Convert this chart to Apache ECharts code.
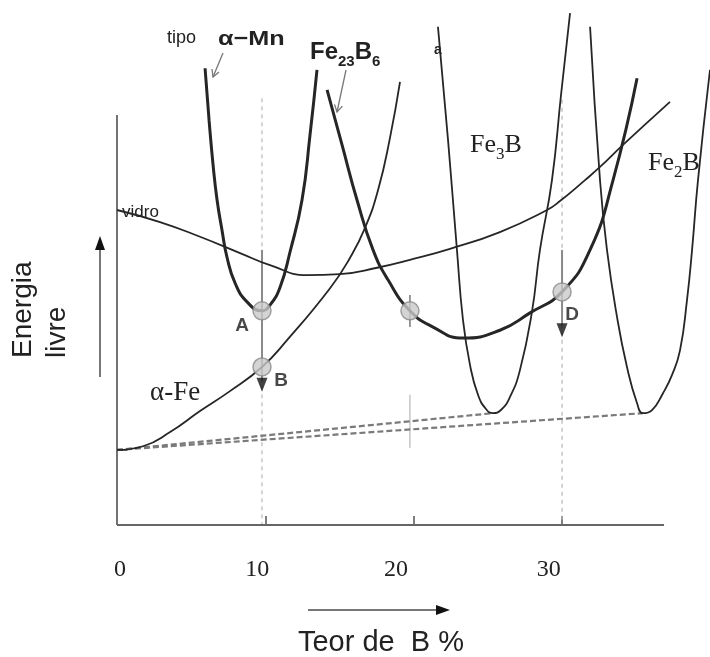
<!DOCTYPE html>
<html><head><meta charset="utf-8">
<script src="https://cdn.jsdelivr.net/npm/echarts@6/dist/echarts.min.js"></script>
<style>html,body{margin:0;padding:0;background:#fff}#c{width:710px;height:657px}</style>
</head><body><div id="c"></div>
<script>
// ---- data (x = B content %, y = free energy, arbitrary units) ----
const xTickLabels = [0, 10, 20, 30];
const vidro = [[0,60.0],[2.9,57.7],[5.6,54.9],[8.3,51.8],[10.32,49.5],[12.82,47.6],[15.04,47.8],[17.54,49.0],[19.76,50.5],[22.46,52.6],[25.83,55.8],[29.01,60.0],[29.88,61.7],[31.57,65.7],[32.58,68.2],[34.13,72.4],[37.30,80.6]];
const alphaMn = [[5.94,87.0],[6.21,77.1],[6.48,68.6],[6.75,61.9],[7.08,56.2],[7.42,51.0],[7.96,46.1],[8.77,42.5],[9.78,40.8],[10.32,41.9],[11.00,45.3],[11.67,52.0],[12.48,61.9],[13.02,74.3],[13.49,86.7]];
const fe23b6 = [[14.17,82.9],[15.18,72.4],[16.19,61.9],[17.27,52.4],[18.28,46.7],[19.76,40.8],[21.32,37.7],[23.34,35.6],[25.83,37.1],[27.86,40.4],[30.02,44.4],[31.91,52.4],[33.46,65.7],[35.08,85.1]];
const alphaFe = [[0,14.3],[1.75,15.0],[3.58,17.7],[5.60,21.7],[7.62,25.5],[9.78,30.1],[11.47,35.2],[14.37,45.1],[15.72,50.9],[16.73,56.6],[17.61,63.8],[18.41,73.7],[19.09,84.4]];
const fe3b = [[21.65,94.9],[22.33,73.3],[22.93,52.4],[23.34,39.0],[23.81,30.5],[24.35,24.8],[24.89,22.1],[25.36,21.3],[25.90,21.9],[26.51,24.4],[27.18,29.5],[27.99,40.6],[28.53,52.4],[29.34,65.7],[29.95,81.9],[30.56,97.5]];
const fe2b = [[31.91,94.9],[32.58,65.7],[33.05,52.4],[33.73,39.6],[34.40,30.1],[35.08,23.2],[35.48,21.3],[36.09,21.9],[36.83,25.1],[37.44,28.6],[37.98,33.3],[38.45,42.9],[38.79,52.4],[39.19,65.7],[40.00,86.7]];
const tieFe3B = [[0,14.3],[25.36,21.3]];
const tieFe2B = [[0,14.3],[35.48,21.3]];
const pointNames = ['A','B','C','D'];
const pointValues = [[9.78,40.8],[9.78,30.1],[19.76,40.8],[30.02,44.4]];
const guideX = [9.78, 30.02];
const guideTop = [81.3, 81.0];
const dropFrom = [52.4, 52.4];
const dropTo = [27.5, 38.0];
const arrowHeads = [[9.78,26.7],[30.02,37.1]];
const mark20 = [[19.76,24.8],[19.76,14.7]];
const markC = [[19.76,43.8],[19.76,37.7]];
const yAxisTop = 78.1;
const xAxisEnd = 36.9;
const yTickE = 14.3;

const SANS = '"Liberation Sans", Arial, sans-serif';
const SERIF = '"Liberation Serif", "Times New Roman", serif';
const INK = '#262626';

function curve(data, width) {
  return {type:'line', data, smooth:0.5, symbol:'none', silent:true,
    lineStyle:{color:INK, width}, z:3};
}
function seg(data, color, width, type, z) {
  return {type:'line', data, symbol:'none', silent:true, lineStyle:{color, width, type}, z: z||2};
}

const series = [];
guideX.forEach((x,i) => series.push(seg([[x,guideTop[i]],[x,0]], '#b5b5b5', 1.2, [4,4], 1)));
guideX.forEach((x,i) => series.push(seg([[x,dropFrom[i]],[x,dropTo[i]]], '#8a8a8a', 2, 'solid', 2)));
series.push(seg(mark20, '#a8a8a8', 1, 'solid', 1));
series.push(seg(markC, '#555', 1.2, 'solid', 2));
series.push(seg(tieFe3B, '#7a7a7a', 2.2, [6,3], 2));
series.push(seg(tieFe2B, '#7a7a7a', 2.2, [6,3], 2));
series.push(seg([[0,0],[0,yAxisTop]], '#444', 1.5, 'solid', 2));
series.push(seg([[0,0],[xAxisEnd,0]], '#666', 2, 'solid', 2));
series.push(seg([[0,yTickE],[0.7,yTickE]], '#444', 1.5, 'solid', 2));
series.push(curve(vidro, 1.8));
series.push(curve(alphaFe, 1.8));
series.push(curve(fe3b, 1.8));
series.push(curve(fe2b, 1.8));
series.push(curve(alphaMn, 3));
series.push(curve(fe23b6, 3));
series.push({type:'scatter', data: arrowHeads, symbol:'triangle', symbolSize:[11,14], symbolRotate:180,
  itemStyle:{color:'#111'}, silent:true, z:6});
const labelOffsets = {A:[-20,15], B:[19,14], C:null, D:[10,23]};
series.push({type:'scatter', symbolSize:18, silent:true, z:7,
  itemStyle:{color:'#c9c9c9', borderColor:'#8a8a8a', borderWidth:1.5},
  data: pointNames.map((n,i) => ({name:n, value:pointValues[i],
    label: labelOffsets[n] ? {show:true, position:'inside', offset:labelOffsets[n], formatter:n,
      fontFamily:SANS, fontSize:19, fontWeight:'bold', color:'#1a1a1a'} : {show:false}}))
});

const tickRich = {};
const tickPad = {0:[0,0,0,6], 10:[0,16,0,0], 20:[0,35,0,0], 30:[0,26,0,0]};
xTickLabels.forEach(v => { tickRich['t'+v] = {fontFamily:SERIF, fontSize:24, color:'#222', padding:tickPad[v]}; });

function arrowHead(tip, a, b) { return {type:'polyline', shape:{points:[a, tip, b]}, style:{stroke:'#777', lineWidth:1.3, fill:null}}; }

const option = {
  animation:false,
  backgroundColor:'#fff',
  grid:{left:117, right:0, top:0, bottom:132},
  xAxis:{type:'value', min:0, max:40, interval:10,
    axisLine:{show:false}, splitLine:{show:false},
    axisTick:{show:true, inside:true, length:9, lineStyle:{color:'#555', width:1.5}, customValues:[10,20,30]},
    axisLabel:{customValues:xTickLabels, margin:33, fontFamily:SERIF, fontSize:24, color:'#222',
      formatter: v => xTickLabels.indexOf(v) >= 0 ? '{t'+v+'|'+v+'}' : '', rich:tickRich}},
  yAxis:{type:'value', min:0, max:100, show:false},
  series,
  graphic:[
    {type:'line', shape:{x1:100,y1:377,x2:100,y2:248}, style:{stroke:'#777', lineWidth:2}},
    {type:'polygon', shape:{points:[[100,236],[95,250],[105,250]]}, style:{fill:'#111'}},
    {type:'line', shape:{x1:308,y1:610,x2:438,y2:610}, style:{stroke:'#777', lineWidth:2}},
    {type:'polygon', shape:{points:[[450,610],[436,605],[436,615]]}, style:{fill:'#111'}},
    {type:'text', x:6, y:358, rotation:Math.PI/2, style:{text:'Energia\nlivre', fontFamily:SANS, fontSize:28, lineHeight:34, fill:'#222', align:'left', verticalAlign:'top'}},
    {type:'text', x:381, y:628, style:{text:'Teor de  B %', fontFamily:SANS, fontSize:29, fill:'#222', align:'center', verticalAlign:'top'}},
    {type:'text', x:167, y:38, style:{text:'tipo', fontFamily:SANS, fontSize:18, fill:'#222', align:'left', verticalAlign:'middle'}},
    {type:'text', x:218, y:39, scaleX:1.2, style:{text:'α−Mn', fontFamily:SANS, fontSize:21, fontWeight:'bold', fill:'#222', align:'left', verticalAlign:'middle'}},
    {type:'text', x:310, y:52, style:{text:'{m|Fe}{s|23}{m|B}{s|6}', align:'left', verticalAlign:'middle',
      rich:{m:{fontFamily:SANS, fontSize:24, fontWeight:'bold', fill:'#222', lineHeight:34},
            s:{fontFamily:SANS, fontSize:15, fontWeight:'bold', fill:'#222', lineHeight:15, padding:[19,0,0,0]}}}},
    {type:'text', x:438, y:50, style:{text:'a', fontFamily:SANS, fontSize:14, fontWeight:'bold', fill:'#222', align:'center', verticalAlign:'middle'}},
    {type:'text', x:470, y:145, style:{text:'{m|Fe}{s|3}{m|B}', align:'left', verticalAlign:'middle',
      rich:{m:{fontFamily:SERIF, fontSize:26, fill:'#222', lineHeight:36},
            s:{fontFamily:SERIF, fontSize:17, fill:'#222', lineHeight:17, padding:[19,0,0,0]}}}},
    {type:'text', x:648, y:163, style:{text:'{m|Fe}{s|2}{m|B}', align:'left', verticalAlign:'middle',
      rich:{m:{fontFamily:SERIF, fontSize:26, fill:'#222', lineHeight:36},
            s:{fontFamily:SERIF, fontSize:17, fill:'#222', lineHeight:17, padding:[19,0,0,0]}}}},
    {type:'text', x:150, y:393, style:{text:'α-Fe', fontFamily:SERIF, fontSize:27, fill:'#222', align:'left', verticalAlign:'middle'}},
    {type:'text', x:122, y:212, style:{text:'vidro', fontFamily:SANS, fontSize:17, fill:'#222', align:'left', verticalAlign:'middle'}},
    {type:'line', shape:{x1:223,y1:53,x2:213,y2:77}, style:{stroke:'#777', lineWidth:1.3}},
    arrowHead([213,77],[212,69],[219,72]),
    {type:'line', shape:{x1:346,y1:70,x2:337,y2:112}, style:{stroke:'#777', lineWidth:1.3}},
    arrowHead([337,112],[334.5,104.4],[342.4,106.1])
  ]
};
const chart = echarts.init(document.getElementById('c'));
chart.setOption(option);
</script>
</body></html>
